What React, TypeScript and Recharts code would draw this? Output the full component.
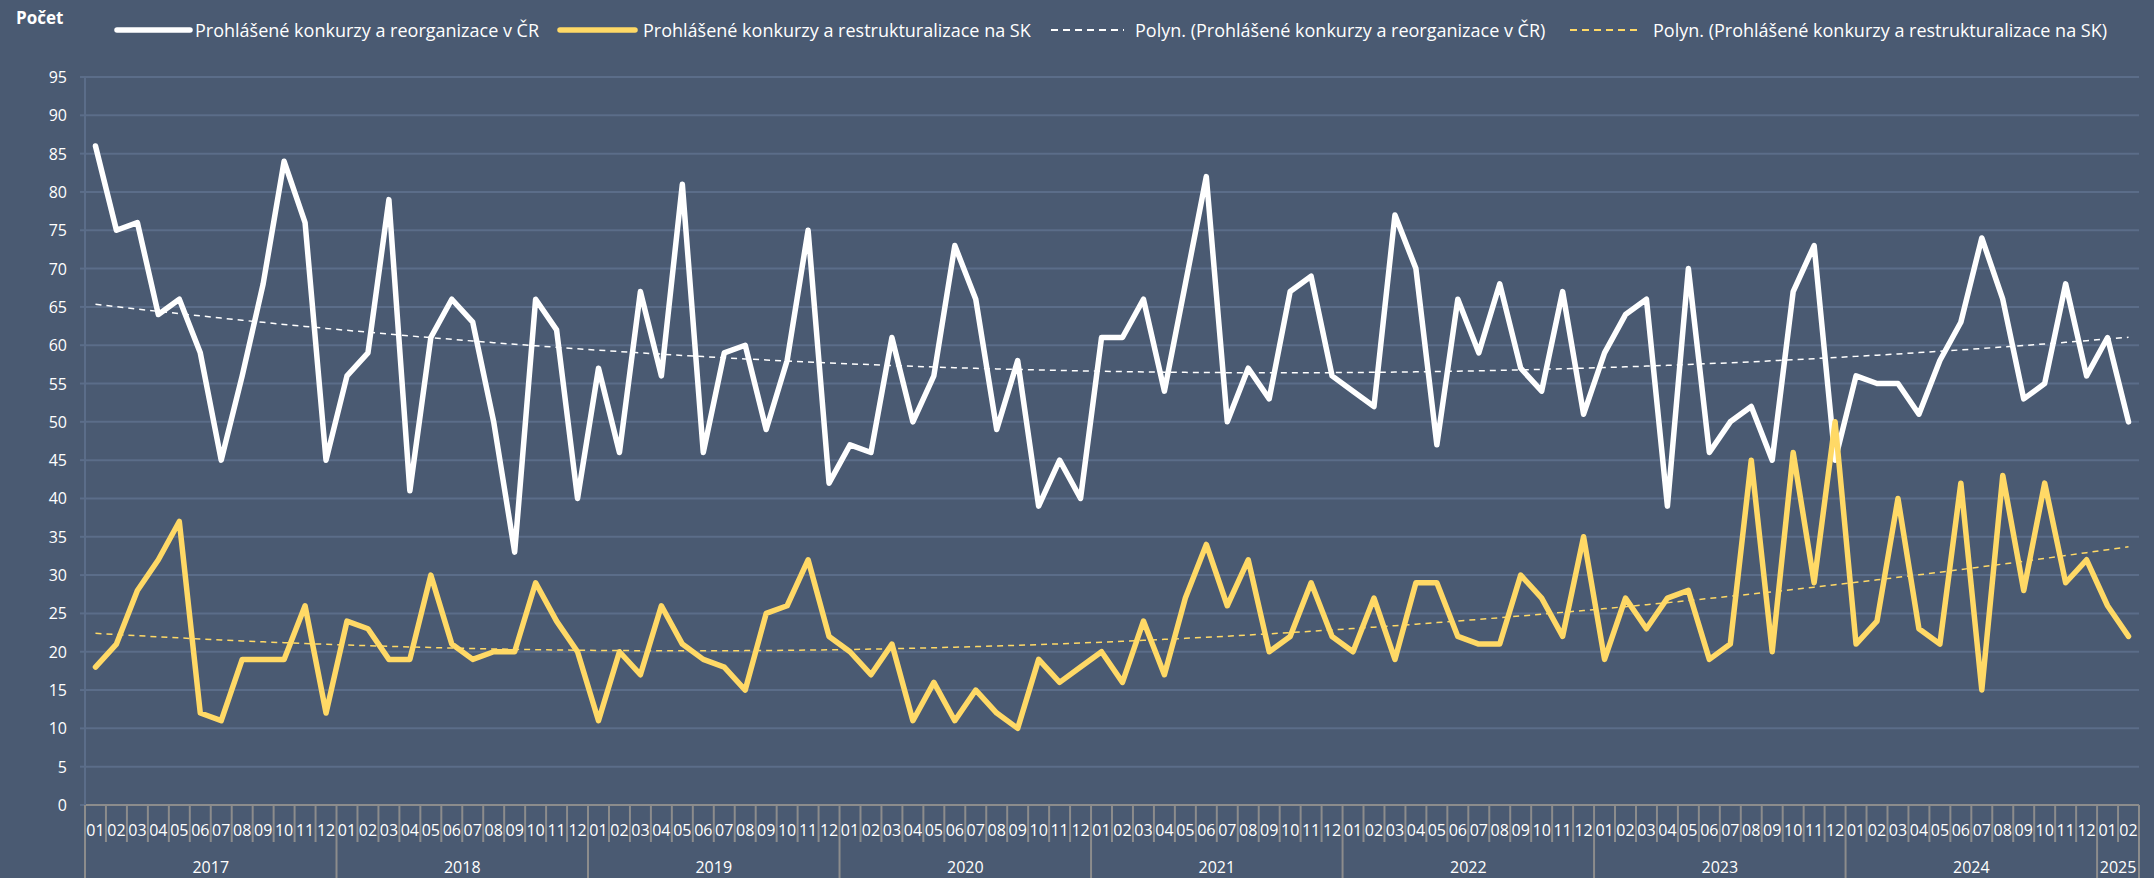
import React from 'react';
import { LineChart, Line, XAxis, YAxis, CartesianGrid } from 'recharts';

// ---------- data ----------
const years = ['2017', '2018', '2019', '2020', '2021', '2022', '2023', '2024', '2025'];
const months = ['01', '02', '03', '04', '05', '06', '07', '08', '09', '10', '11', '12'];

const czValues = [
  86, 75, 76, 64, 66, 59, 45, 56, 68, 84, 76, 45,
  56, 59, 79, 41, 61, 66, 63, 50, 33, 66, 62, 40,
  57, 46, 67, 56, 81, 46, 59, 60, 49, 58, 75, 42,
  47, 46, 61, 50, 56, 73, 66, 49, 58, 39, 45, 40,
  61, 61, 66, 54, 68, 82, 50, 57, 53, 67, 69, 56,
  54, 52, 77, 70, 47, 66, 59, 68, 57, 54, 67, 51,
  59, 64, 66, 39, 70, 46, 50, 52, 45, 67, 73, 45,
  56, 55, 55, 51, 58, 63, 74, 66, 53, 55, 68, 56,
  61, 50,
];

const skValues = [
  18, 21, 28, 32, 37, 12, 11, 19, 19, 19, 26, 12,
  24, 23, 19, 19, 30, 21, 19, 20, 20, 29, 24, 20,
  11, 20, 17, 26, 21, 19, 18, 15, 25, 26, 32, 22,
  20, 17, 21, 11, 16, 11, 15, 12, 10, 19, 16, 18,
  20, 16, 24, 17, 27, 34, 26, 32, 20, 22, 29, 22,
  20, 27, 19, 29, 29, 22, 21, 21, 30, 27, 22, 35,
  19, 27, 23, 27, 28, 19, 21, 45, 20, 46, 29, 50,
  21, 24, 40, 23, 21, 42, 15, 43, 28, 42, 29, 32,
  26, 22,
];

const yTicks = [0, 5, 10, 15, 20, 25, 30, 35, 40, 45, 50, 55, 60, 65, 70, 75, 80, 85, 90, 95];

const seriesNames = {
  cz: 'Prohlášené konkurzy a reorganizace v ČR',
  sk: 'Prohlášené konkurzy a restrukturalizace na SK',
  czTrend: 'Polyn. (Prohlášené konkurzy a reorganizace v ČR)',
  skTrend: 'Polyn. (Prohlášené konkurzy a restrukturalizace na SK)',
};

// ---------- polynomial (order 2) trendline, like Excel ----------
function quadTrend(ys: number[]): number[] {
  const n = ys.length;
  let s0 = 0, s1 = 0, s2 = 0, s3 = 0, s4 = 0, t0 = 0, t1 = 0, t2 = 0;
  for (let i = 0; i < n; i++) {
    const x = i + 1;
    const y = ys[i];
    s0 += 1; s1 += x; s2 += x * x; s3 += x * x * x; s4 += x * x * x * x;
    t0 += y; t1 += x * y; t2 += x * x * y;
  }
  const M = [
    [s0, s1, s2, t0],
    [s1, s2, s3, t1],
    [s2, s3, s4, t2],
  ];
  for (let c = 0; c < 3; c++) {
    for (let r = c + 1; r < 3; r++) {
      const f = M[r][c] / M[c][c];
      for (let k = c; k < 4; k++) M[r][k] -= f * M[c][k];
    }
  }
  const sol = [0, 0, 0];
  for (let r = 2; r >= 0; r--) {
    let v = M[r][3];
    for (let k = r + 1; k < 3; k++) v -= M[r][k] * sol[k];
    sol[r] = v / M[r][r];
  }
  return ys.map((_, i) => {
    const x = i + 1;
    return sol[0] + sol[1] * x + sol[2] * x * x;
  });
}

const czTrend = quadTrend(czValues);
const skTrend = quadTrend(skValues);

const data = czValues.map((v, i) => ({
  key: `${years[Math.floor(i / 12)]}-${months[i % 12]}`,
  year: years[Math.floor(i / 12)],
  month: months[i % 12],
  cz: v,
  sk: skValues[i],
  czTrend: czTrend[i],
  skTrend: skTrend[i],
}));

// ---------- layout / style ----------
const W = 2154;
const H = 878;
const PLOT_LEFT = 85;
const PLOT_RIGHT = 2139;
const PLOT_TOP = 77;
const PLOT_BOTTOM = 805;
const BAND = (PLOT_RIGHT - PLOT_LEFT) / data.length;

const BG = '#4a5a72';
const GRID = '#5b6d89';
const AXIS = '#8c8c8c';
const TEXT = '#ffffff';
const WHITE = '#ffffff';
const YELLOW = '#ffd966';
const FONT = '"Open Sans", "Noto Sans", sans-serif';

const yearCounts: Record<string, number> = {};
data.forEach((d) => {
  yearCounts[d.year] = (yearCounts[d.year] || 0) + 1;
});

const MonthTick = (props: any) => {
  const { x, y, index } = props;
  const d = data[index];
  if (!d) return null;
  const left = x - BAND / 2;
  const yearStart = index === 0 || d.month === '01';
  const last = index === data.length - 1;
  const count = yearCounts[d.year];
  return (
    <g>
      <line x1={left} x2={left} y1={y} y2={yearStart ? H : y + 37} stroke={AXIS} strokeWidth={2} />
      {last && <line x1={x + BAND / 2} x2={x + BAND / 2} y1={y} y2={H} stroke={AXIS} strokeWidth={2} />}
      <text x={x} y={y + 25} textAnchor="middle" dominantBaseline="central" fill={TEXT} fontSize={16} fontFamily={FONT}>
        {d.month}
      </text>
      {yearStart && (
        <text
          x={left + (count * BAND) / 2}
          y={y + 62}
          textAnchor="middle"
          dominantBaseline="central"
          fill={TEXT}
          fontSize={16}
          fontFamily={FONT}
        >
          {d.year}
        </text>
      )}
    </g>
  );
};

const YTick = (props: any) => {
  const { x, y, payload } = props;
  return (
    <text x={x} y={y} textAnchor="end" dominantBaseline="central" fill={TEXT} fontSize={16} fontFamily={FONT}>
      {payload.value}
    </text>
  );
};

const legendItems = [
  { name: seriesNames.cz, color: WHITE, dashed: false, lineX: 117, lineW: 73, textX: 195 },
  { name: seriesNames.sk, color: YELLOW, dashed: false, lineX: 560, lineW: 75, textX: 643 },
  { name: seriesNames.czTrend, color: WHITE, dashed: true, lineX: 1051, lineW: 73, textX: 1135 },
  { name: seriesNames.skTrend, color: YELLOW, dashed: true, lineX: 1570, lineW: 72, textX: 1653 },
];

export default function App() {
  return (
    <div style={{ position: 'relative', width: W, height: H, background: BG, overflow: 'hidden' }}>
      <style>{`body{margin:0;background:${BG};}`}</style>
      <div
        style={{
          position: 'absolute',
          left: 16,
          top: 6,
          fontFamily: FONT,
          fontWeight: 700,
          fontSize: 17,
          color: TEXT,
          lineHeight: '24px',
        }}
      >
        Počet
      </div>
      {legendItems.map((it) => (
        <React.Fragment key={it.name}>
          <svg
            style={{ position: 'absolute', left: it.lineX - 4, top: 22 }}
            width={it.lineW + 8}
            height={16}
          >
            <line
              x1={4}
              x2={it.lineW + 4}
              y1={8}
              y2={8}
              stroke={it.color}
              strokeWidth={it.dashed ? 2 : 5.5}
              strokeLinecap={it.dashed ? 'butt' : 'round'}
              strokeDasharray={it.dashed ? '7 5' : undefined}
            />
          </svg>
          <div
            style={{
              position: 'absolute',
              left: it.textX,
              top: 18,
              fontFamily: FONT,
              fontSize: 18,
              color: TEXT,
              lineHeight: '24px',
              whiteSpace: 'nowrap',
            }}
          >
            {it.name}
          </div>
        </React.Fragment>
      ))}
      <div style={{ position: 'absolute', left: 0, top: 0 }}>
        <LineChart
          width={W}
          height={H}
          data={data}
          margin={{ top: PLOT_TOP, right: W - PLOT_RIGHT, left: 0, bottom: 0 }}
        >
          <CartesianGrid horizontal vertical={false} stroke={GRID} strokeWidth={2} />
          <XAxis
            dataKey="key"
            interval={0}
            height={H - PLOT_BOTTOM}
            padding={{ left: BAND / 2, right: BAND / 2 }}
            axisLine={{ stroke: AXIS, strokeWidth: 2 }}
            tickLine={false}
            tickSize={0}
            tickMargin={0}
            tick={<MonthTick />}
          />
          <YAxis
            domain={[0, 95]}
            ticks={yTicks}
            interval={0}
            width={PLOT_LEFT}
            axisLine={{ stroke: GRID, strokeWidth: 2 }}
            tickLine={{ stroke: GRID, strokeWidth: 2 }}
            tickSize={5}
            tickMargin={13}
            tick={<YTick />}
          />
          <Line
            dataKey="czTrend"
            stroke={WHITE}
            strokeWidth={1.5}
            strokeDasharray="6 5"
            dot={false}
            activeDot={false}
            isAnimationActive={false}
          />
          <Line
            dataKey="skTrend"
            stroke={YELLOW}
            strokeWidth={1.5}
            strokeDasharray="6 5"
            dot={false}
            activeDot={false}
            isAnimationActive={false}
          />
          <Line
            dataKey="cz"
            stroke={WHITE}
            strokeWidth={5.5}
            strokeLinejoin="round"
            strokeLinecap="round"
            dot={false}
            activeDot={false}
            isAnimationActive={false}
          />
          <Line
            dataKey="sk"
            stroke={YELLOW}
            strokeWidth={5.5}
            strokeLinejoin="round"
            strokeLinecap="round"
            dot={false}
            activeDot={false}
            isAnimationActive={false}
          />
        </LineChart>
      </div>
    </div>
  );
}
